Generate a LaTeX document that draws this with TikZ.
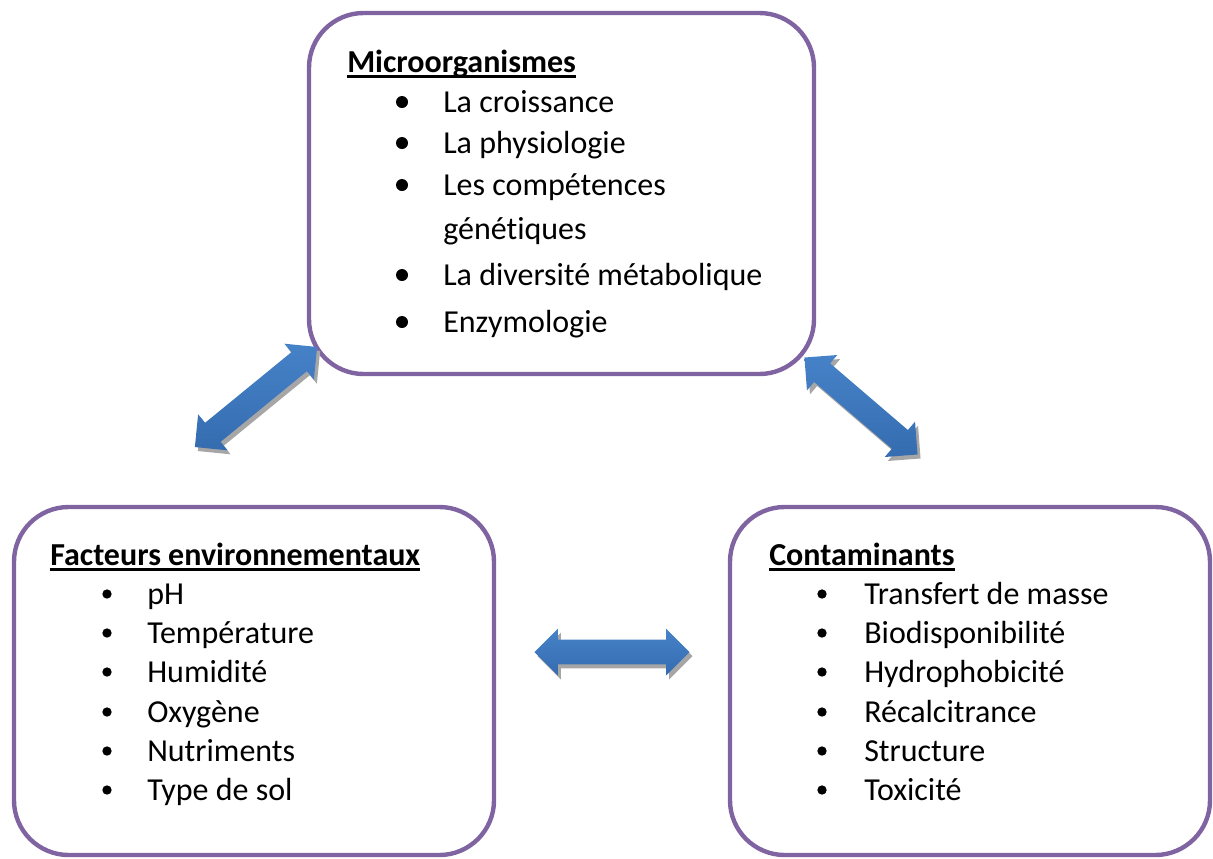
\documentclass[tikz,border=0pt]{standalone}
\usepackage{fontspec}
\setmainfont{Carlito}[Ligatures=NoCommon]
\usetikzlibrary{shapes.arrows,shadows}

\definecolor{boxviolet}{HTML}{8064A2}
\definecolor{arrowtop}{HTML}{4682C8}
\definecolor{arrowbot}{HTML}{356CB0}

\tikzset{
  panel/.style={draw=boxviolet,line width=3.3pt,rounded corners=41pt,inner sep=0pt},
  lbl/.style={anchor=base west,inner sep=0pt,font=\fontsize{24}{29}\selectfont},
  heading/.style={lbl,font=\fontsize{24}{29}\selectfont\bfseries},
  dblarrow/.style={double arrow,draw=none,inner xsep=0pt,inner ysep=9pt,
    minimum height=#1*0.75pt,double arrow head extend=8.25pt,
    top color=arrowtop,bottom color=arrowbot,
    drop shadow={shadow xshift=2.25pt,shadow yshift=-3pt,fill=gray!70,opacity=1}}
}

\begin{document}
\begin{tikzpicture}[x=0.75pt,y=-0.75pt]
      \useasboundingbox (0,0) rectangle (1213,858);
      % the three panels
      \node[panel,minimum width=378.75pt,minimum height=270.75pt] (micro) at (561.5,193.5) {};
      \node[panel,minimum width=360pt,minimum height=261pt] (facteurs) at (254,681) {};
      \node[panel,minimum width=360pt,minimum height=261pt] (contam) at (970,681) {};
      % headings
      \node[heading] (microtitle) at (347,72) {Microorganismes};
      \node[heading] (factitle) at (50,565) {Facteurs environnementaux};
      \node[heading] (contitle) at (769,565) {Contaminants};
      \foreach \t in {microtitle,factitle,contitle}
        \draw[line width=2pt] ([yshift=-3.5pt]\t.base west) -- ([yshift=-3.5pt]\t.base east);
      % microorganismes
      \foreach \y/\txt in {112/La croissance,153/La physiologie,195/Les compétences,239/génétiques,285/La diversité métabolique,332/Enzymologie}
        \node[lbl] (m\y) at (443,\y) {\txt};
      \foreach \y in {102,143,185,275,322}
        \fill (402,\y) circle[radius=4.5pt];
      % facteurs environnementaux
      \foreach \y/\txt in {604/pH,643/Température,682/Humidité,722/Oxygène,761/Nutriments,800/Type de sol}
        \node[lbl] (f\y) at (147,\y) {\txt};
      % contaminants
      \foreach \y/\txt in {604/Transfert de masse,643/Biodisponibilité,682/Hydrophobicité,722/Récalcitrance,761/Structure,800/Toxicité}
        \node[lbl] (c\y) at (864,\y) {\txt};
      \foreach \y in {594,633,672,712,751,790}{
        \fill (107,\y) circle[radius=3.5pt];
        \fill (822,\y) circle[radius=3.5pt];
      }
      % arrows between the panels
      \node[dblarrow=158,rotate=39.3] (arrowmf) at (256,397) {};
      \node[dblarrow=149,rotate=-40.6] (arrowmc) at (861,406) {};
      \node[dblarrow=155] (arrowfc) at (612,652) {};
    \end{tikzpicture}
\end{document}
